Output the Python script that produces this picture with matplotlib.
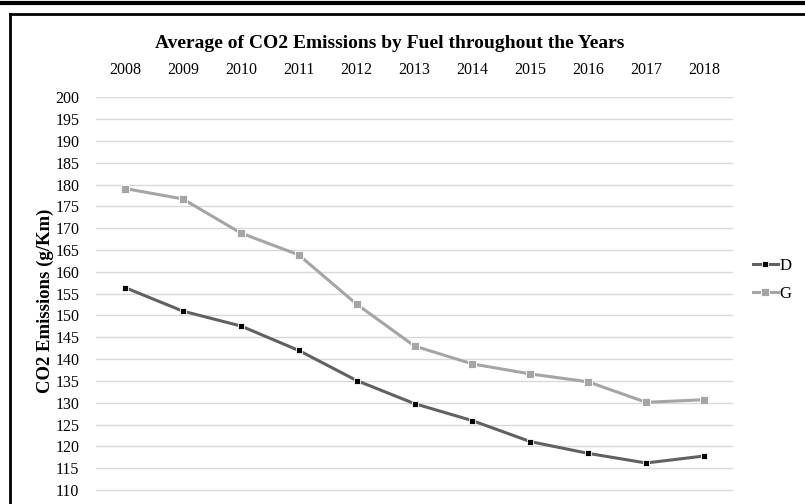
import matplotlib.pyplot as plt
from matplotlib.lines import Line2D

years = ["2008", "2009", "2010", "2011", "2012", "2013", "2014", "2015", "2016", "2017", "2018"]
diesel = [156.4, 151.0, 147.6, 142.0, 135.1, 129.8, 125.9, 121.1, 118.4, 116.2, 117.8]
gasoline = [179.1, 176.7, 168.9, 163.9, 152.6, 143.0, 138.9, 136.6, 134.8, 130.1, 130.7]
y_ticks = list(range(110, 201, 5))

plt.rcParams["font.family"] = ["Liberation Serif", "DejaVu Serif"]

fig = plt.figure(figsize=(8.05, 5.04), dpi=100)
ax = fig.add_axes([96 / 805, 0, 637 / 805, 1 - 97.3 / 504])

x = list(range(len(years)))
ax.plot(x, diesel, color="#616161", lw=2.2, marker="s", ms=4.5,
        mfc="black", mec="white", mew=0.6, label="D", zorder=3)
ax.plot(x, gasoline, color="#a5a5a5", lw=2.2, marker="s", ms=6,
        mfc="#a5a5a5", mec="white", mew=0.6, label="G", zorder=3)

ax.set_xlim(-0.5, len(years) - 0.5)
ax.set_ylim(106.8, 200)
ax.set_yticks(y_ticks)
ax.set_xticks(x)
ax.set_xticklabels(years)
ax.xaxis.tick_top()
ax.tick_params(axis="x", length=0, pad=14, labelsize=11.5)
ax.tick_params(axis="y", length=0, pad=12, labelsize=11.5)
ax.grid(axis="y", color="#d9d9d9", lw=1)
ax.set_axisbelow(True)
for s in ax.spines.values():
    s.set_visible(False)

ax.set_ylabel("CO2 Emissions (g/Km)", fontsize=13.5, fontweight="bold", labelpad=1)

fig.text(390 / 805, 1 - 43 / 504, "Average of CO2 Emissions by Fuel throughout the Years",
         ha="center", va="center", fontsize=14, fontweight="bold")

ax.legend(loc="center left", bbox_to_anchor=(1.031, 0.551), frameon=False, borderpad=0,
          borderaxespad=0, fontsize=12, handlelength=1.5, handletextpad=0.1,
          labelspacing=0.75)

# outer frame lines
fig.add_artist(Line2D([0, 1], [1 - 2.5 / 504] * 2, color="black", lw=3, transform=fig.transFigure))
fig.add_artist(Line2D([10 / 805, 1], [1 - 14 / 504] * 2, color="black", lw=2, transform=fig.transFigure))
fig.add_artist(Line2D([10 / 805] * 2, [0, 1 - 14 / 504], color="black", lw=2, transform=fig.transFigure))

fig.savefig("out.png", dpi=100)
